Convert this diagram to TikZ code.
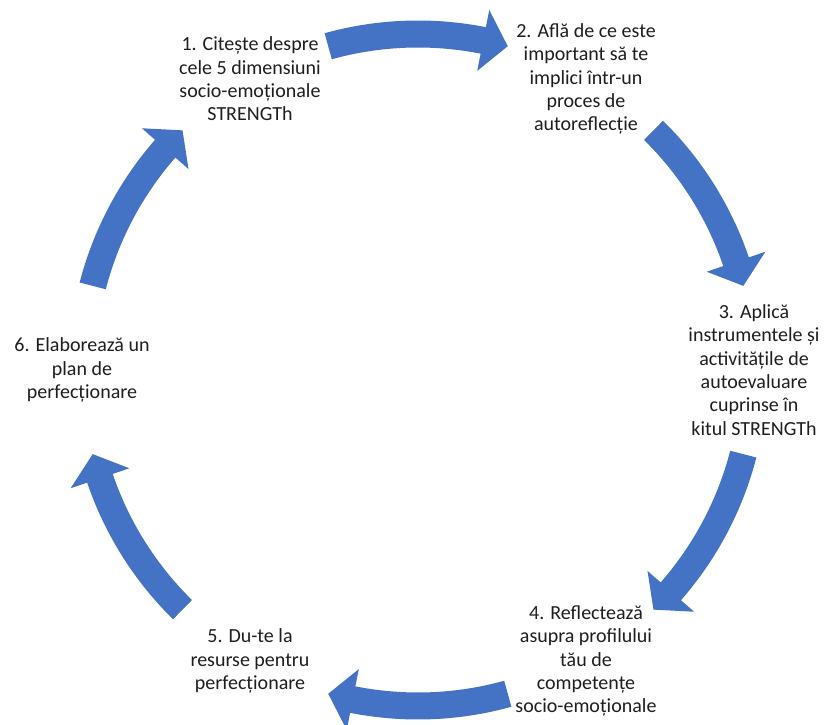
\documentclass[tikz,border=0pt]{standalone}
\usepackage{fontspec}
\setmainfont{Carlito}
\usetikzlibrary{calc}
\definecolor{cycblue}{HTML}{4472C4}
\definecolor{steptext}{HTML}{1E1E1E}
% one curved block arrow of the cycle, centred on angle #1, running clockwise
\newcommand{\cyclearrow}[1]{%
  \pgfmathsetmacro\arrTail{#1+15.5}%
  \pgfmathsetmacro\arrTip{#1-15.5}%
  \pgfmathsetmacro\arrBase{#1-11.2}%
  \fill[cycblue]
    ([shift={(C)}]\arrTail:349.5pt)
      arc[start angle=\arrTail, end angle=\arrBase, radius=349.5pt]
    -- ([shift={(C)}]\arrBase:367pt)
    -- ([shift={(C)}]\arrTip:336pt)
    -- ([shift={(C)}]\arrBase:305pt)
    -- ([shift={(C)}]\arrBase:322.5pt)
      arc[start angle=\arrBase, end angle=\arrTail, radius=322.5pt]
    -- cycle;}
\begin{document}
\begin{tikzpicture}[x=1pt,y=1pt,
  steplabel/.style={align=center, text=steptext, inner sep=0pt,
    font=\fontsize{20}{23.4}\selectfont}]
\useasboundingbox[fill=white] (0,0) rectangle (827,724);
\coordinate (C) at (418,354);

% arrows between the steps
\foreach \a in {90,30,-30,-90,-150,150} {\cyclearrow{\a}}

% step labels
\node[steplabel] (s1) at ([shift={(C)}]120:336pt)
  {1. Citește despre\\cele 5 dimensiuni\\socio-emoționale\\STRENGTh};
\node[steplabel] (s2) at ([shift={(C)}]60:336pt)
  {2. Află de ce este\\important să te\\implici într-un\\proces de\\autoreflecție};
\node[steplabel] (s3) at ([shift={(C)}]0:336pt)
  {3. Aplică\\instrumentele și\\activitățile de\\autoevaluare\\cuprinse în\\kitul STRENGTh};
\node[steplabel] (s4) at ([shift={(C)}]-60:336pt)
  {4. Reflectează\\asupra profilului\\tău de\\competențe\\socio-emoționale};
\node[steplabel] (s5) at ([shift={(C)}]-120:336pt)
  {5. Du-te la\\resurse pentru\\perfecționare};
\node[steplabel] (s6) at ([shift={(C)}]180:336pt)
  {6. Elaborează un\\plan de\\perfecționare};
\end{tikzpicture}
\end{document}
